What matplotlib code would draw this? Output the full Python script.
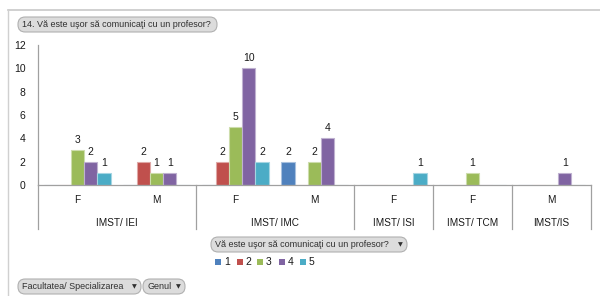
import matplotlib
matplotlib.use("Agg")
import matplotlib.pyplot as plt
from matplotlib.patches import FancyBboxPatch, Rectangle
import numpy as np

plt.rcParams['font.family'] = ['Liberation Sans', 'DejaVu Sans']

title = "14. Vă este uşor să comunicaţi cu un profesor?"
legend_title = "Vă este uşor să comunicaţi cu un profesor?"
series_names = ["1", "2", "3", "4", "5"]
genders = ["F", "M", "F", "M", "F", "F", "M"]
groups = ["IMST/ IEI", "IMST/ IMC", "IMST/ ISI", "IMST/ TCM", "IMST/IS"]
group_sizes = [2, 2, 1, 1, 1]
# values per series (1..5) across the 7 categories
s1 = [0, 0, 0, 2, 0, 0, 0]
s2 = [0, 2, 2, 0, 0, 0, 0]
s3 = [3, 1, 5, 2, 0, 1, 0]
s4 = [2, 1, 10, 4, 0, 0, 1]
s5 = [1, 0, 2, 0, 1, 0, 0]
series = [s1, s2, s3, s4, s5]
colors = ["#4F81BD", "#C0504D", "#9BBB59", "#8064A2", "#4BACC6"]
edges = ["#A7C0DE", "#DFA8A6", "#CDDDAC", "#BFB1D0", "#A5D5E2"]

W, H = 600, 296
fig = plt.figure(figsize=(W / 100, H / 100), dpi=100)
TXT = "#1A1A1A"

def fx(x):
    return x / W

def fy(y):
    return 1 - y / H

ax_l, ax_r, ax_t, ax_b = 38, 591, 45, 185
ax = fig.add_axes([fx(ax_l), fy(ax_b), (ax_r - ax_l) / W, (ax_b - ax_t) / H])

n_cat = len(genders)
x = np.arange(n_cat) + 0.5
bw = 0.168
for i, (vals, c, ec) in enumerate(zip(series, colors, edges)):
    pos = x + (i - 2) * bw
    ax.bar(pos, vals, width=bw, color=c, edgecolor=ec, linewidth=0.8)
    for p, v in zip(pos, vals):
        if v:
            ax.annotate(str(v), (p, v), xytext=(0, 3.5), textcoords="offset points",
                        ha="center", va="bottom", fontsize=7.5, color=TXT)

ax.set_xlim(0, n_cat)
ax.set_ylim(0, 12)
ax.set_yticks(range(0, 13, 2))
ax.tick_params(axis="y", length=0, labelsize=7.5, pad=9, colors=TXT)
ax.set_xticks([])
for s in ["top", "right"]:
    ax.spines[s].set_visible(False)
ax.spines["left"].set_color("#A0A0A0")
ax.spines["bottom"].set_color("#A0A0A0")
ax.spines["left"].set_linewidth(0.9)
ax.spines["bottom"].set_linewidth(0.9)

tr = ax.get_xaxis_transform()
low = -(229 - ax_b) / (ax_b - ax_t)
bounds = np.concatenate([[0], np.cumsum(group_sizes)])
for b in bounds:
    ax.plot([b, b], [0, low], transform=tr, color="#A0A0A0", lw=0.9, clip_on=False)

y_g = -(200 - ax_b) / (ax_b - ax_t)
y_grp = -(223 - ax_b) / (ax_b - ax_t)
for xi, g in zip(x, genders):
    ax.text(xi, y_g, g, transform=tr, ha="center", va="center", fontsize=7.2, color=TXT)
for k, g in enumerate(groups):
    cx = (bounds[k] + bounds[k + 1]) / 2
    ax.text(cx, y_grp, g, transform=tr, ha="center", va="center", fontsize=7.2, color=TXT)

# sheet borders
fig.add_artist(plt.Line2D([fx(8), fx(600)], [fy(9.5), fy(9.5)], color="#C8C8C8", lw=1.2))
fig.add_artist(plt.Line2D([fx(8), fx(8)], [fy(9.5), fy(296)], color="#D0D0D0", lw=1))

def button(x0, x1, y0, y1, text, arrow=True):
    box = FancyBboxPatch((fx(x0), fy(y1)), fx(x1 - x0), (y1 - y0) / H,
                         boxstyle="round,pad=0,rounding_size=0.012",
                         facecolor="#DCDCDC", edgecolor="#B0B0B0", lw=0.8,
                         transform=fig.transFigure, mutation_aspect=W / H)
    fig.add_artist(box)
    fig.text(fx(x0 + 4), fy((y0 + y1) / 2), text, ha="left", va="center",
             fontsize=6.5, color="#303030")
    if arrow:
        fig.text(fx(x1 - 7), fy((y0 + y1) / 2 + 0.5), "▼", ha="center", va="center",
                 fontsize=4.5, color="#303030", family="DejaVu Sans")

button(18, 217, 17, 32, title, arrow=False)
button(211, 407, 237, 252, legend_title)
button(18, 141, 279, 294, "Facultatea/ Specializarea")
button(143, 185, 279, 294, "Genul")

lx = [215, 236.5, 257, 278.5, 300]
for xs, c, name in zip(lx, colors, series_names):
    fig.add_artist(Rectangle((fx(xs), fy(265)), fx(6), 6 / H, facecolor=c,
                             edgecolor="none", transform=fig.transFigure))
    fig.text(fx(xs + 9), fy(262), name, ha="left", va="center", fontsize=7.5, color=TXT)

fig.savefig("out.png", dpi=100)
